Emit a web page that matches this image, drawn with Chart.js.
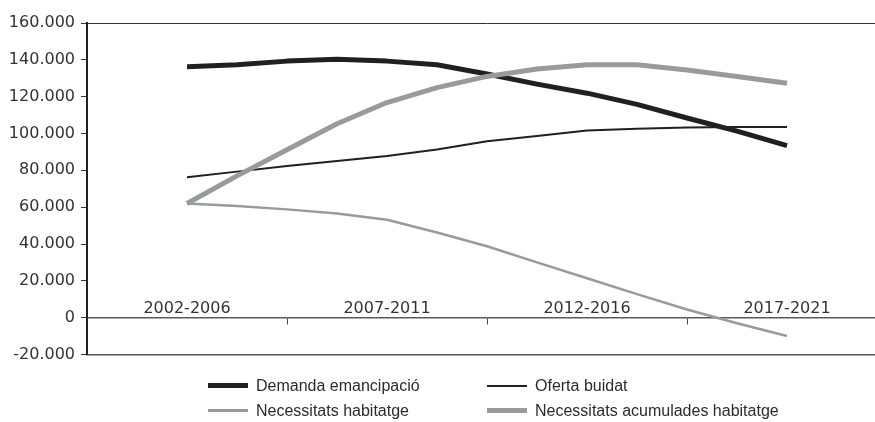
<!DOCTYPE html>
<html>
<head>
<meta charset="utf-8">
<script src="https://cdn.jsdelivr.net/npm/chart.js@4/dist/chart.umd.min.js"></script>
<style>
  html, body { margin: 0; padding: 0; background: #fff; overflow: hidden; width: 875px; height: 422px; }
  #wrap { position: relative; width: 900px; height: 422px; }
  #legend { position: absolute; left: 208px; top: 373px; display: grid; grid-template-columns: 279px auto;
            font-family: 'Liberation Sans', Arial, sans-serif; font-size: 16px; color: #2b2b2b; }
  .item { display: flex; align-items: center; height: 25px; white-space: nowrap; }
  .sw { display: inline-block; width: 40px; margin-right: 8px; }
</style>
</head>
<body>
<div id="wrap">
  <canvas id="c" width="900" height="422"></canvas>
  <div id="legend"></div>
</div>
<script>
// ---- data ----
const periods = ['2002-2006', '2007-2011', '2012-2016', '2017-2021'];
// position of each observation, in period units (0 = 2002-2006)
const pointPeriod = [0, 0.25, 0.5, 0.75, 1, 1.25, 1.5, 1.75, 2, 2.25, 2.5, 2.75, 3];

const demandaEmancipacio   = [136300, 137300, 139300, 140300, 139300, 137300, 132300, 126800, 121900, 115800, 108400, 101300, 93400];
const ofertaBuidat         = [76200, 79300, 82300, 85100, 87800, 91300, 95800, 98700, 101600, 102600, 103300, 103500, 103500];
const necessitatsHabitatge = [62000, 60700, 58800, 56600, 53200, 46200, 38800, 30000, 21400, 12800, 4400, -3000, -10000];
const necessitatsAcumulades = [62000, 77000, 91200, 105300, 116800, 124900, 131000, 135000, 137300, 137300, 134500, 131000, 127300];

const yMin = -20000, yMax = 160000, yStep = 20000;
const seriesNames = ['Demanda emancipació', 'Oferta buidat', 'Necessitats habitatge', 'Necessitats acumulades habitatge'];

// ---- helpers ----
const fmt = n => (n < 0 ? '-' : '') + Math.abs(n).toString().replace(/\B(?=(\d{3})+(?!\d))/g, '.');
const toPts = arr => arr.map((v, i) => ({ x: pointPeriod[i], y: v }));

const BLACK = '#231f20', GREY = '#999a9c';
const axisFont = { family: "'DejaVu Sans', sans-serif", size: 16 };

const datasets = [
  { label: seriesNames[0], data: toPts(demandaEmancipacio), borderColor: BLACK, borderWidth: 5, order: 1 },
  { label: seriesNames[1], data: toPts(ofertaBuidat), borderColor: BLACK, borderWidth: 2, order: 2 },
  { label: seriesNames[2], data: toPts(necessitatsHabitatge), borderColor: GREY, borderWidth: 2.5, order: 3 },
  { label: seriesNames[3], data: toPts(necessitatsAcumulades), borderColor: GREY, borderWidth: 5, order: 0 }
].map(d => Object.assign(d, { xAxisID: 'x', yAxisID: 'y', pointRadius: 0, tension: 0, fill: false,
                              borderCapStyle: 'butt', borderJoinStyle: 'round' }));

const chart = new Chart(document.getElementById('c'), {
  type: 'line',
  data: { datasets },
  options: {
    responsive: false,
    animation: false,
    devicePixelRatio: 1,
    layout: { padding: { left: 0, top: 23, right: 13, bottom: 67.5 } },
    plugins: { legend: { display: false }, tooltip: { enabled: false } },
    scales: {
      x: {
        type: 'linear', axis: 'x', min: -0.5, max: 3.5,
        position: { y: 0 },
        afterFit: s => { s.height = 0; },
        afterBuildTicks: s => {
          const t = [];
          periods.forEach((p, i) => { t.push({ value: i }); if (i < periods.length - 1) t.push({ value: i + 0.5 }); });
          s.ticks = t;
        },
        ticks: {
          autoSkip: false, maxRotation: 0, minRotation: 0,
          padding: -24, color: '#333', font: axisFont,
          callback: v => Number.isInteger(v) ? periods[v] : ''
        },
        grid: {
          drawOnChartArea: false, drawTicks: true, tickLength: 6, lineWidth: 1,
          tickColor: ctx => (ctx.tick && !Number.isInteger(ctx.tick.value)) ? '#444' : 'rgba(0,0,0,0)'
        },
        border: { display: true, color: '#5a5a5a', width: 1.5 }
      },
      xTop: {
        type: 'linear', axis: 'x', position: 'top',
        afterFit: s => { s.height = 0; },
        ticks: { display: false },
        grid: { display: false, drawTicks: false },
        border: { display: true, color: '#333', width: 1 }
      },
      xBottom: {
        type: 'linear', axis: 'x', position: 'bottom',
        afterFit: s => { s.height = 0; },
        ticks: { display: false },
        grid: { display: false, drawTicks: false },
        border: { display: true, color: '#555', width: 1.5 }
      },
      y: {
        type: 'linear', position: 'left', min: yMin, max: yMax,
        afterFit: s => { s.width = 87; },
        ticks: { stepSize: yStep, padding: 6, color: '#333', font: axisFont, callback: v => fmt(v) },
        grid: { drawOnChartArea: false, drawTicks: true, tickLength: 6, tickColor: '#333', lineWidth: 1 },
        border: { display: true, color: BLACK, width: 2 }
      }
    }
  }
});

// ---- HTML legend built from the chart's datasets ----
const legendEl = document.getElementById('legend');
chart.data.datasets.forEach(ds => {
  const item = document.createElement('div');
  item.className = 'item';
  const sw = document.createElement('span');
  sw.className = 'sw';
  sw.style.height = ds.borderWidth + 'px';
  sw.style.background = ds.borderColor;
  const tx = document.createElement('span');
  tx.textContent = ds.label;
  item.appendChild(sw);
  item.appendChild(tx);
  legendEl.appendChild(item);
});
</script>
</body>
</html>
